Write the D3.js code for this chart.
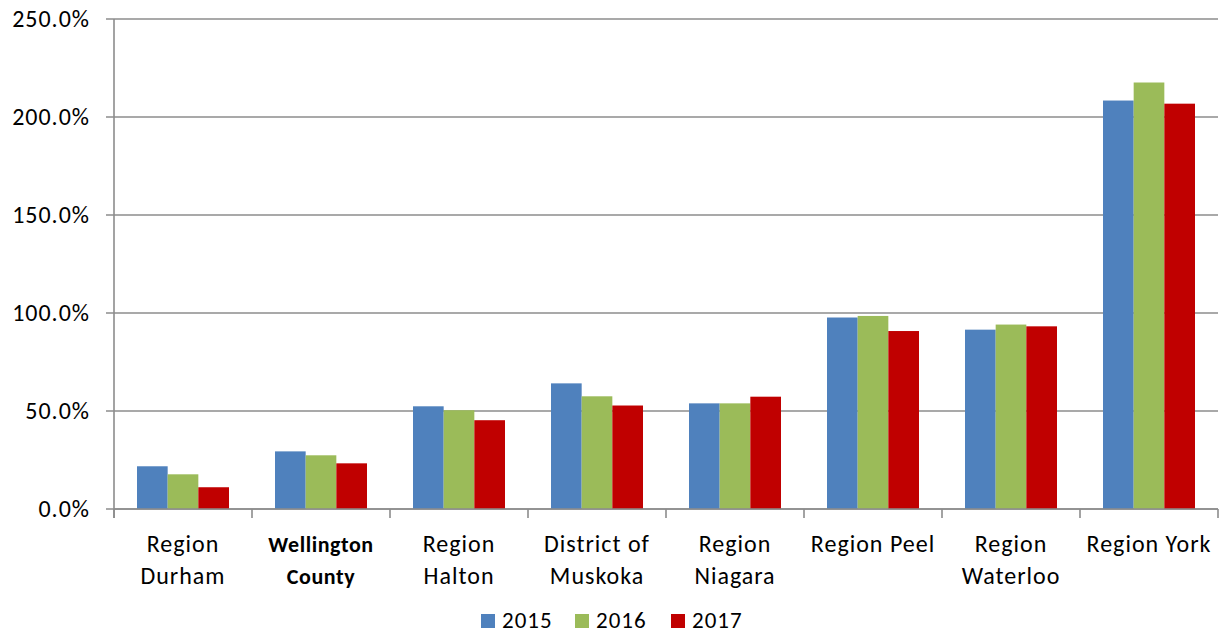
<!DOCTYPE html>
<html>
<head>
<meta charset="utf-8">
<script src="https://cdn.jsdelivr.net/npm/d3@7"></script>
<style>
  body { margin: 0; background: #fff; }
  text { font-family: Carlito, Calibri, Lato, sans-serif; fill: #000; letter-spacing: 1px; }
</style>
</head>
<body>
<div id="chart"></div>
<script>
// Daten
const categories = [
  ["Region", "Durham"],
  ["Wellington", "County"],
  ["Region", "Halton"],
  ["District of", "Muskoka"],
  ["Region", "Niagara"],
  ["Region Peel"],
  ["Region", "Waterloo"],
  ["Region York"]
]
const boldCategory = 1
const years = ["2015", "2016", "2017"]
const values2015 = [21.8, 29.4, 52.4, 64.1, 53.9, 97.7, 91.5, 208.4]
const values2016 = [17.7, 27.4, 50.4, 57.5, 53.9, 98.5, 94.1, 217.6]
const values2017 = [11.1, 23.3, 45.3, 52.8, 57.3, 90.8, 93.2, 206.8]
const yTicks = [0, 50, 100, 150, 200, 250]
const colors = ["#4F81BD", "#9BBB59", "#C00000"]

const series = [values2015, values2016, values2017]

const width = 1228
const height = 634
const plotLeft = 114, plotRight = 1218, plotTop = 19, plotBottom = 509

let svg = d3.select("#chart")
  .append("svg")
  .attr("width", width)
  .attr("height", height)

const x = d3.scaleBand()
  .domain(d3.range(categories.length))
  .range([plotLeft, plotRight])
  .paddingInner(0)
  .paddingOuter(0)

const xInner = d3.scaleBand()
  .domain(d3.range(years.length))
  .range([0, x.bandwidth()])
  .paddingInner(0)
  .paddingOuter(0.75)

const y = d3.scaleLinear().domain([0, 250]).range([plotBottom, plotTop])

// Gitterlinien
svg.append("g")
  .selectAll("line")
  .data(yTicks)
  .enter().append("line")
  .attr("x1", plotLeft - 8)
  .attr("x2", plotRight)
  .attr("y1", d => y(d))
  .attr("y2", d => y(d))
  .attr("stroke", "#8c8c8c")
  .attr("stroke-width", 1.6)

// Y-Beschriftung
svg.append("g")
  .selectAll("text")
  .data(yTicks)
  .enter().append("text")
  .attr("x", 90)
  .attr("y", d => y(d) + 8)
  .attr("text-anchor", "end")
  .style("font-size", "24px")
  .text(d => d3.format(".1f")(d) + "%")

// Balken
const groups = svg.append("g")
  .selectAll("g")
  .data(series)
  .enter().append("g")
  .attr("fill", (d, i) => colors[i])

groups.each(function(vals, si) {
  d3.select(this).selectAll("rect")
    .data(vals)
    .enter().append("rect")
    .attr("x", (d, i) => x(i) + xInner(si))
    .attr("y", d => y(d))
    .attr("width", xInner.bandwidth())
    .attr("height", d => y(0) - y(d))
})

// Achsen
svg.append("line")
  .attr("x1", plotLeft).attr("x2", plotLeft)
  .attr("y1", plotTop).attr("y2", plotBottom + 9)
  .attr("stroke", "#8c8c8c").attr("stroke-width", 1.6)

svg.append("line")
  .attr("x1", plotLeft).attr("x2", plotRight)
  .attr("y1", plotBottom).attr("y2", plotBottom)
  .attr("stroke", "#8c8c8c").attr("stroke-width", 1.6)

svg.append("g")
  .selectAll("line")
  .data(d3.range(categories.length + 1))
  .enter().append("line")
  .attr("x1", d => plotLeft + d * x.bandwidth())
  .attr("x2", d => plotLeft + d * x.bandwidth())
  .attr("y1", plotBottom)
  .attr("y2", plotBottom + 9)
  .attr("stroke", "#8c8c8c").attr("stroke-width", 1.6)

// Kategorien
const labels = svg.append("g")
  .selectAll("text")
  .data(categories)
  .enter().append("text")
  .attr("text-anchor", "middle")
  .attr("transform", (d, i) => `translate(${x(i) + x.bandwidth() / 2}, 552)`)
  .style("font-weight", (d, i) => i === boldCategory ? "bold" : "normal")
  .style("font-size", (d, i) => i === boldCategory ? "22px" : "24px")
  .style("letter-spacing", (d, i) => i === boldCategory ? "0.6px" : "1px")

labels.selectAll("tspan")
  .data(d => d)
  .enter().append("tspan")
  .attr("x", 0)
  .attr("y", (d, i) => i * 32)
  .text(d => d)

// Legende
const legendX = [481, 575, 671]
const legend = svg.append("g")
  .selectAll("g")
  .data(years)
  .enter().append("g")
  .attr("transform", (d, i) => `translate(${legendX[i]}, 614)`)

legend.append("rect")
  .attr("width", 14).attr("height", 14)
  .attr("fill", (d, i) => colors[i])

legend.append("text")
  .attr("x", 21).attr("y", 14)
  .style("font-size", "23px")
  .text(d => d)
</script>
</body>
</html>
